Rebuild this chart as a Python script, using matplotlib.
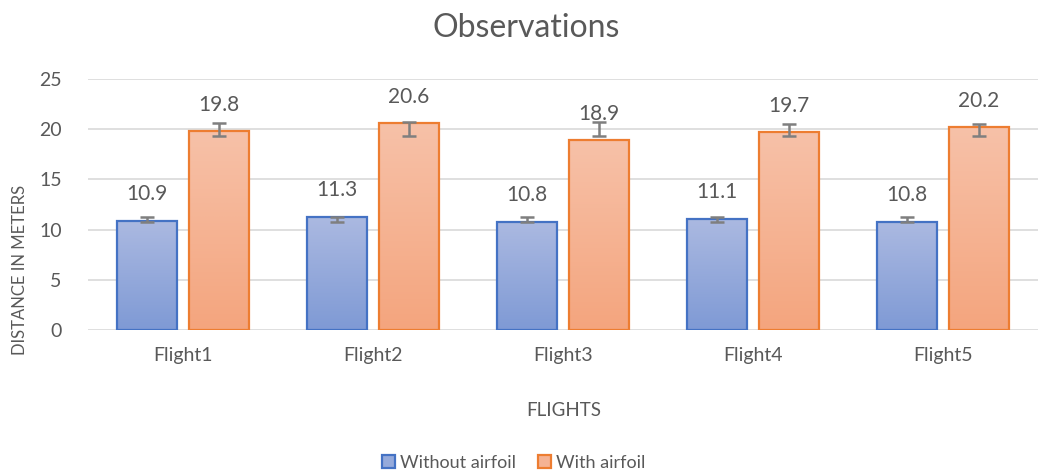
import numpy as np
import matplotlib.pyplot as plt

flights = ['Flight1', 'Flight2', 'Flight3', 'Flight4', 'Flight5']
without_airfoil = [10.9, 11.3, 10.8, 11.1, 10.8]
with_airfoil = [19.8, 20.6, 18.9, 19.7, 20.2]
# error bars (low, high)
without_err_low = [10.75, 10.8, 10.75, 10.8, 10.75]
without_err_high = [11.25, 11.3, 11.25, 11.3, 11.25]
with_err_low = [19.3, 19.3, 19.3, 19.3, 19.3]
with_err_high = [20.6, 20.7, 20.7, 20.5, 20.5]

plt.rcParams['font.family'] = ['Lato', 'DejaVu Sans']
grey = '#595959'

fig = plt.figure(figsize=(10.4, 4.75), dpi=100)
ax = fig.add_axes([88 / 1040, 1 - 330 / 475, 950 / 1040, 251 / 475])

x = np.arange(len(flights))
w = 0.315
off = 0.19


def grad_bars(xs, vals, top_col, bot_col, edge, label):
    bars = ax.bar(xs, vals, w, color='none', edgecolor=edge, linewidth=1.6,
                  zorder=3, label=label)
    t = np.linspace(0, 1, 64)[:, None]
    img = (1 - t) * top_col + t * bot_col
    img = img[:, None, :].repeat(2, axis=1)
    for b in bars:
        x0, y0 = b.get_x(), b.get_y()
        im = ax.imshow(img, extent=[x0, x0 + b.get_width(), y0, y0 + b.get_height()],
                       aspect='auto', zorder=2, interpolation='bicubic')
        im.set_clip_path(b)
    return bars


def hex2rgb(h):
    h = h.lstrip('#')
    return np.array([int(h[i:i + 2], 16) / 255 for i in (0, 2, 4)])


b1 = grad_bars(x - off, without_airfoil, hex2rgb('#ABB9E1'), hex2rgb('#7F9AD5'),
               '#4472C4', 'Without airfoil')
b2 = grad_bars(x + off, with_airfoil, hex2rgb('#F7C1A8'), hex2rgb('#F4A57E'),
               '#ED7D31', 'With airfoil')

for xs, lo, hi in [(x - off, without_err_low, without_err_high),
                   (x + off, with_err_low, with_err_high)]:
    lo = np.array(lo)
    hi = np.array(hi)
    ax.errorbar(xs, (lo + hi) / 2, yerr=(hi - lo) / 2, fmt='none', ecolor='#7F7F7F',
                elinewidth=1.8, capsize=5, capthick=1.8, zorder=4)

for xs, vals in [(x - off, without_airfoil), (x + off, with_airfoil)]:
    for xi, v in zip(xs, vals):
        ax.annotate(f'{v}', (xi, v), xytext=(0, 19), textcoords='offset points',
                    ha='center', va='center', fontsize=15, color=grey, zorder=5)

ax.set_xlim(-0.5, 4.5)
ax.set_ylim(0, 25)
ax.set_yticks(range(0, 26, 5))
ax.set_xticks(x)
ax.set_xticklabels(flights)
ax.tick_params(length=0, labelsize=14, labelcolor=grey)
ax.tick_params(axis='x', pad=12)
ax.tick_params(axis='y', pad=19)
for s in ax.spines.values():
    s.set_visible(False)
ax.grid(axis='y', color='#D9D9D9', linewidth=1.2, zorder=0)
ax.set_axisbelow(True)

fig.text(526 / 1040, 1 - 28 / 475, 'Observations', ha='center', va='center',
         fontsize=23, color=grey)
fig.text(20 / 1040, 1 - 270 / 475, 'DISTANCE IN METERS', rotation=90, ha='center',
         va='center', fontsize=12, color=grey)
fig.text(564 / 1040, 1 - 411 / 475, 'FLIGHTS', ha='center', va='center',
         fontsize=13.5, color=grey)

leg = fig.legend(handles=[b1, b2], loc='center', bbox_to_anchor=(514 / 1040, 1 - 463 / 475),
                 ncol=2, frameon=False, fontsize=13, handlelength=0.7, handleheight=0.7,
                 handletextpad=0.3, columnspacing=1.2)
for h, fc in zip(leg.legend_handles, ['#95AADB', '#F5B293']):
    h.set_facecolor(fc)
for t in leg.get_texts():
    t.set_color(grey)

fig.savefig('out.png', dpi=100)
